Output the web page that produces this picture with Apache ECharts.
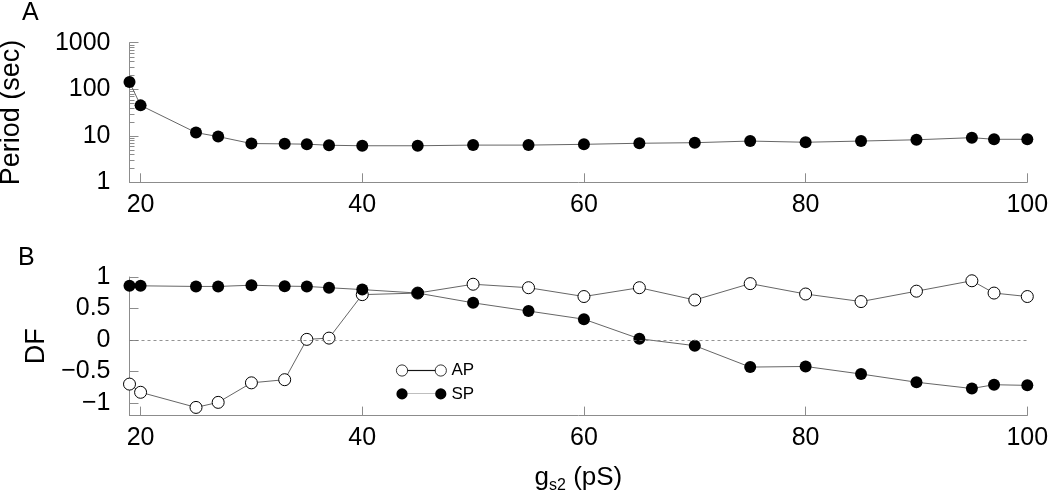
<!DOCTYPE html>
<html><head><meta charset="utf-8">
<script src="https://cdn.jsdelivr.net/npm/echarts@6/dist/echarts.min.js"></script>
<style>html,body{margin:0;padding:0;background:#fff}#c{width:1050px;height:495px}</style>
</head><body><div id="c"></div>
<script>
const gs2 = [19,20,25,27,30,33,35,37,40,45,50,55,60,65,70,75,80,85,90,95,97,100];
const period = [143,45,11.7,9.6,6.8,6.7,6.6,6.25,6.1,6.1,6.3,6.3,6.55,6.9,7.1,7.7,7.25,7.7,8.2,9.1,8.4,8.4];
const dfAP = [-0.70,-0.83,-1.07,-0.99,-0.68,-0.63,0.01,0.03,0.72,0.745,0.885,0.83,0.69,0.83,0.635,0.895,0.73,0.61,0.775,0.94,0.745,0.69];
const dfSP = [0.86,0.86,0.85,0.85,0.87,0.855,0.85,0.83,0.80,0.745,0.59,0.46,0.33,0.02,-0.09,-0.43,-0.42,-0.54,-0.67,-0.77,-0.71,-0.72];
const periodTicks = [1,10,100,1000];
const periodMinorTicks = [2,3,4,5,6,7,8,9,20,30,40,50,60,70,80,90,200,300,400,500,600,700,800,900];
const dfTicks = [-1,-0.5,0,0.5,1];
const xTicks = [20,40,60,80,100];
const xMin = 19, xMax = 100;

const FONT = '"Liberation Sans", Arial, Helvetica, sans-serif';
const axisColor = '#8c8c8c';
const lineColor = '#666';
const legendPath = 'path://M0.5,6A5.5,5.5,0,1,1,11.5,6A5.5,5.5,0,1,1,0.5,6ZM38.5,6A5.5,5.5,0,1,1,49.5,6A5.5,5.5,0,1,1,38.5,6ZM11.5,5.9L38.5,5.9L38.5,6.1L11.5,6.1Z';

function fmtNum(v){
  const r = +(+v).toPrecision(6);
  return r < 0 ? '\u2212' + Math.abs(r) : String(r);
}
function xAxisCfg(grid, extra){
  return Object.assign({
    gridIndex: grid, type: 'value', min: xMin, max: xMax,
    axisLine: {show: true, onZero: false, lineStyle: {color: axisColor, width: 1}},
    axisTick: {show: true, inside: true, length: 9, lineStyle: {color: axisColor}},
    axisLabel: {showMinLabel: false, fontSize: 25, color: '#000', margin: 10, fontFamily: FONT,
      formatter: v => xTicks.indexOf(+v) >= 0 ? String(v) : ''},
    splitLine: {show: false}
  }, extra || {});
}

const chart = echarts.init(document.getElementById('c'), null, {renderer: 'canvas'});
const option = {
  animation: false,
  backgroundColor: '#fff',
  title: [
    {text: 'A', left: 22, top: 1, padding: 0, textStyle: {fontFamily: FONT, fontSize: 25, fontWeight: 'normal', color: '#000'}},
    {text: 'B', left: 18, top: 246, padding: 0, textStyle: {fontFamily: FONT, fontSize: 25, fontWeight: 'normal', color: '#000'}}
  ],
  grid: [
    {left: 129.5, right: 22.7, top: 42.7, height: 139.6, outerBoundsMode: 'none', containLabel: false},
    {left: 129.5, right: 22.7, top: 277, height: 138.6, outerBoundsMode: 'none', containLabel: false}
  ],
  legend: {
    orient: 'vertical', left: 391, top: 357, itemWidth: 50, itemHeight: 12, itemGap: 6.4,
    selectedMode: false,
    textStyle: {fontFamily: FONT, fontSize: 17, color: '#000', lineHeight: 12},
    data: [{name: 'AP', icon: legendPath, itemStyle: {borderWidth: 0.8}}, {name: 'SP', icon: legendPath}]
  },
  xAxis: [
    xAxisCfg(0),
    xAxisCfg(1, {
      name: '{g|g}{s|s2}{g| (pS)}', nameLocation: 'middle', nameGap: 46,
      nameTextStyle: {fontFamily: FONT, color: '#000', rich: {
        g: {fontFamily: FONT, fontSize: 26, color: '#000'},
        s: {fontFamily: FONT, fontSize: 16, color: '#000', padding: [16, 0, 0, 0]}
      }}
    })
  ],
  yAxis: [
    {
      gridIndex: 0, type: 'log', logBase: 10, min: 1, max: 1000,
      name: 'Period (sec)', nameLocation: 'middle', nameGap: 104,
      nameTextStyle: {fontFamily: FONT, fontSize: 27, color: '#000'},
      axisLine: {show: true, onZero: false, lineStyle: {color: axisColor, width: 1}},
      axisTick: {show: true, inside: true, length: 9, lineStyle: {color: axisColor}},
      minorTick: {show: false},
      axisLabel: {fontSize: 25, color: '#000', margin: 19, fontFamily: FONT,
        formatter: v => periodTicks.indexOf(Math.round(v)) >= 0 ? String(Math.round(v)) : ''},
      splitLine: {show: false}
    },
    {
      gridIndex: 1, type: 'value', min: -1.2, max: 1,
      name: 'DF', nameLocation: 'middle', nameGap: 66,
      nameTextStyle: {fontFamily: FONT, fontSize: 27, color: '#000'},
      axisLine: {show: true, onZero: false, lineStyle: {color: axisColor, width: 1}},
      axisTick: {show: true, inside: true, length: 9, lineStyle: {color: axisColor}},
      axisLabel: {showMinLabel: false, fontSize: 25, color: '#000', margin: 19, fontFamily: FONT,
        formatter: v => dfTicks.some(t => Math.abs(t - v) < 1e-9) ? fmtNum(v) : ''},
      splitLine: {show: false}
    }
  ],
  series: [
    {
      name: 'minorTicks', type: 'custom', xAxisIndex: 0, yAxisIndex: 0, clip: false, silent: true, z: 1,
      data: periodMinorTicks.map(v => [xMin, v]),
      renderItem: (params, api) => {
        const p = api.coord([api.value(0), api.value(1)]);
        const y = Math.round(p[1]) + 0.5;
        return {type: 'line', shape: {x1: p[0], y1: y, x2: p[0] + 5, y2: y},
          style: {stroke: axisColor, lineWidth: 1}};
      }
    },
    {
      name: 'Period', type: 'line', xAxisIndex: 0, yAxisIndex: 0, clip: false,
      data: gs2.map((x, i) => [x, period[i]]),
      symbol: 'circle', symbolSize: 12,
      itemStyle: {color: '#000'},
      lineStyle: {color: lineColor, width: 1}
    },
    {
      name: 'AP', type: 'line', xAxisIndex: 1, yAxisIndex: 1, clip: false,
      data: gs2.map((x, i) => [x, dfAP[i]]),
      symbol: 'circle', symbolSize: 12,
      itemStyle: {color: '#fff', borderColor: '#000', borderWidth: 1},
      lineStyle: {color: lineColor, width: 1},
      markLine: {
        silent: true, symbol: 'none', label: {show: false},
        lineStyle: {color: '#777', type: [3, 3], width: 0.8},
        data: [{yAxis: 0}]
      }
    },
    {
      name: 'SP', type: 'line', xAxisIndex: 1, yAxisIndex: 1, clip: false,
      data: gs2.map((x, i) => [x, dfSP[i]]),
      symbol: 'circle', symbolSize: 12,
      itemStyle: {color: '#000'},
      lineStyle: {color: lineColor, width: 1}
    }
  ]
};
chart.setOption(option);
</script>
</body></html>
